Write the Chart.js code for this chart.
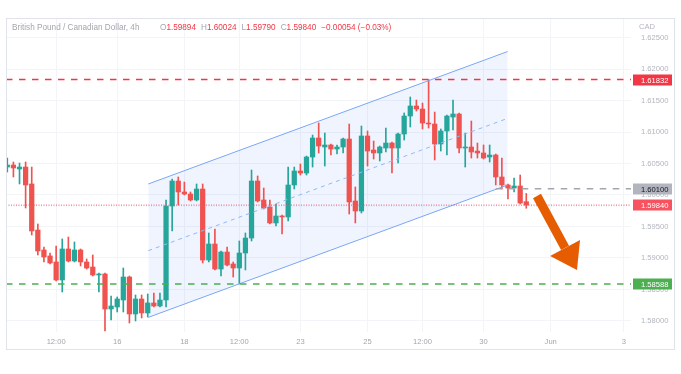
<!DOCTYPE html>
<html>
<head>
<meta charset="utf-8">
<script src="https://cdn.jsdelivr.net/npm/chart.js@4.4.1/dist/chart.umd.min.js"></script>
<style>
  html, body { margin: 0; padding: 0; background: #ffffff; }
  #wrap { position: relative; width: 681px; height: 374px; }
  .ov { position: absolute; white-space: nowrap; font-family: "Liberation Sans", Arial, sans-serif; line-height: 10px; }
  #title { left: 12px; top: 23px; font-size: 8.2px; color: #a3a6af; }
  #ohlc { left: 160px; top: 23px; font-size: 8.2px; color: #f23645; }
  #ohlc .k { color: #a3a6af; }
  #ohlc .v { margin-right: 5px; }
  #cad { left: 639px; top: 22px; font-size: 7.6px; color: #b2b5be; }
</style>
</head>
<body>
<div id="wrap">
  <canvas id="grafiks" width="681" height="374"></canvas>
  <div id="title" class="ov">British Pound / Canadian Dollar, 4h</div>
  <div id="ohlc" class="ov"><span class="k">O</span><span class="v">1.59894</span><span class="k">H</span><span class="v">1.60024</span><span class="k">L</span><span class="v">1.59790</span><span class="k">C</span><span class="v">1.59840</span><span class="v">−0.00054 (−0.03%)</span></div>
  <div id="cad" class="ov">CAD</div>
</div>
<script>
// 4h candles (one entry per candle, left to right)
const opens = [1.60444, 1.60476, 1.60413, 1.60444, 1.60175, 1.59444, 1.59127, 1.59032, 1.58937, 1.58651,
  1.59143, 1.58952, 1.59127, 1.58937, 1.58857, 1.58730, 1.58746, 1.58190, 1.58222, 1.58333,
  1.58698, 1.58111, 1.58349, 1.58127, 1.58286, 1.58238, 1.58333, 1.59825, 1.60222, 1.60048,
  1.60016, 1.59921, 1.60095, 1.58968, 1.59222, 1.58825, 1.59095, 1.58905, 1.58841, 1.59079,
  1.59317, 1.60222, 1.59921, 1.59810, 1.59556, 1.59667, 1.59651, 1.60159, 1.60381, 1.60349,
  1.60603, 1.60905, 1.60762, 1.60794, 1.60730, 1.60762, 1.60889, 1.59905, 1.59746, 1.60937,
  1.60714, 1.60667, 1.60746, 1.60825, 1.60746, 1.60968, 1.61254, 1.61413, 1.61365, 1.61143,
  1.61127, 1.60810, 1.61016, 1.61238, 1.61286, 1.60746, 1.60762, 1.60698, 1.60667, 1.60603,
  1.60635, 1.60286, 1.60159, 1.60111, 1.60143, 1.59894];
const highs = [1.60587, 1.60524, 1.60508, 1.60524, 1.60444, 1.59540, 1.59175, 1.59079, 1.59190, 1.59302,
  1.59333, 1.59254, 1.59143, 1.58984, 1.59048, 1.58762, 1.58762, 1.58397, 1.58381, 1.58841,
  1.58714, 1.58413, 1.58413, 1.58429, 1.58444, 1.58444, 1.59921, 1.60254, 1.60286, 1.60206,
  1.60048, 1.60175, 1.60175, 1.59397, 1.59460, 1.59111, 1.59175, 1.58937, 1.59270, 1.59397,
  1.60397, 1.60302, 1.60111, 1.59921, 1.59857, 1.59683, 1.60444, 1.60444, 1.60492, 1.60619,
  1.60952, 1.61143, 1.60984, 1.60810, 1.60794, 1.60905, 1.61127, 1.60127, 1.61095, 1.61016,
  1.60857, 1.60778, 1.61063, 1.60841, 1.60984, 1.61302, 1.61556, 1.61508, 1.61460, 1.61832,
  1.61317, 1.61048, 1.61270, 1.61508, 1.61302, 1.60984, 1.61175, 1.60825, 1.60794, 1.60794,
  1.60651, 1.60587, 1.60175, 1.60270, 1.60317, 1.60024];
const lows = [1.60365, 1.60286, 1.60175, 1.59794, 1.59365, 1.59048, 1.58937, 1.58905, 1.58635, 1.58460,
  1.58937, 1.58937, 1.58873, 1.58825, 1.58714, 1.58460, 1.57841, 1.58016, 1.58143, 1.58143,
  1.57968, 1.58000, 1.58048, 1.58063, 1.58222, 1.58222, 1.58222, 1.59429, 1.59841, 1.60000,
  1.59905, 1.59905, 1.58921, 1.58937, 1.58810, 1.58714, 1.58873, 1.58698, 1.58587, 1.58810,
  1.59270, 1.59889, 1.59778, 1.59540, 1.59508, 1.59381, 1.59587, 1.60095, 1.60317, 1.60317,
  1.60444, 1.60667, 1.60460, 1.60635, 1.60651, 1.60667, 1.59698, 1.59556, 1.59714, 1.60460,
  1.60571, 1.60540, 1.60683, 1.60349, 1.60508, 1.60873, 1.61080, 1.61333, 1.61048, 1.61063,
  1.60556, 1.60698, 1.60635, 1.61032, 1.60667, 1.60444, 1.60587, 1.60587, 1.60571, 1.60524,
  1.60159, 1.60095, 1.59937, 1.60048, 1.59857, 1.59790];
const closes = [1.60476, 1.60429, 1.60444, 1.60159, 1.59429, 1.59111, 1.59016, 1.58921, 1.58651, 1.59143,
  1.58952, 1.59127, 1.58937, 1.58841, 1.58730, 1.58746, 1.58190, 1.58238, 1.58349, 1.58698,
  1.58111, 1.58349, 1.58127, 1.58286, 1.58238, 1.58333, 1.59825, 1.60222, 1.60048, 1.60016,
  1.59921, 1.60095, 1.58968, 1.59222, 1.58825, 1.59095, 1.58889, 1.58841, 1.59079, 1.59317,
  1.60222, 1.59905, 1.59794, 1.59556, 1.59667, 1.59651, 1.60159, 1.60381, 1.60349, 1.60603,
  1.60905, 1.60778, 1.60794, 1.60730, 1.60762, 1.60889, 1.59889, 1.59746, 1.60937, 1.60698,
  1.60667, 1.60762, 1.60825, 1.60746, 1.60968, 1.61254, 1.61413, 1.61365, 1.61143, 1.61127,
  1.60810, 1.61016, 1.61254, 1.61286, 1.60746, 1.60762, 1.60683, 1.60667, 1.60587, 1.60635,
  1.60286, 1.60159, 1.60111, 1.60143, 1.59873, 1.59840];

// time axis (candle index -> label) and price axis ticks
const timeTickPos = [8, 18, 29, 38, 48, 59, 68, 78, 89, 101];
const timeTickLabels = ["12:00", "16", "18", "12:00", "23", "25", "12:00", "30", "Jun", "3"];
const priceTicks = [1.58, 1.585, 1.59, 1.595, 1.60, 1.605, 1.61, 1.615, 1.62, 1.625];

// drawings: levels, channel, arrow
const resistanceLevel = 1.61832;
const pivotLevel = 1.60100;
const pivotFrom = 80;
const lastPrice = 1.59840;
const prevCloseLevel = 1.59830;
const supportLevel = 1.58588;
const channelX = [23.09, 81.95];
const channelUpper = [1.60175, 1.62278];
const channelMid = [1.59116, 1.61217];
const channelLower = [1.58057, 1.60159];
const arrowFrom = [86.75, 1.59984];
const arrowTo = [93.3, 1.58810];

const xMin = -0.213, xMax = 102.15;
const yMin = 1.57825, yMax = 1.62810;

const upColor = "#26a69a";
const downColor = "#ef5350";
const candleIdx = opens.map((_, i) => i);
const candleColor = (c) => closes[c.dataIndex] >= opens[c.dataIndex] ? upColor : downColor;

function hLine(level, from, to, color, width, dash) {
  return {
    type: "line",
    data: [{ x: from, y: level }, { x: to, y: level }],
    borderColor: color, borderWidth: width, borderDash: dash,
    pointRadius: 0, fill: false, order: 0
  };
}
function twoPoint(xs, ys, color, width, dash) {
  return {
    type: "line",
    data: [{ x: xs[0], y: ys[0] }, { x: xs[1], y: ys[1] }],
    borderColor: color, borderWidth: width, borderDash: dash,
    pointRadius: 0, fill: false, order: 1
  };
}

const tags = [
  { value: resistanceLevel, bg: "#f23645", fg: "#ffffff" },
  { value: pivotLevel, bg: "#b2b5be", fg: "#131722" },
  { value: lastPrice, bg: "#f7525f", fg: "#ffffff" },
  { value: supportLevel, bg: "#4caf50", fg: "#ffffff" }
];

const drawingsPlugin = {
  id: "drawings",
  afterDatasetsDraw(chart) {
    const { ctx, chartArea: a, scales: { x, y } } = chart;
    ctx.save();
    ctx.beginPath();
    ctx.rect(a.left, a.top, a.right - a.left, a.bottom - a.top);
    ctx.clip();
    const x0 = x.getPixelForValue(arrowFrom[0]), y0 = y.getPixelForValue(arrowFrom[1]);
    const x1 = x.getPixelForValue(arrowTo[0]), y1 = y.getPixelForValue(arrowTo[1]);
    const ang = Math.atan2(y1 - y0, x1 - x0);
    const headLen = 25, headHalf = 17;
    const bx = x1 - headLen * Math.cos(ang), by = y1 - headLen * Math.sin(ang);
    ctx.strokeStyle = "#e65c00";
    ctx.fillStyle = "#e65c00";
    ctx.lineWidth = 9;
    ctx.beginPath();
    ctx.moveTo(x0, y0);
    ctx.lineTo(bx, by);
    ctx.stroke();
    ctx.beginPath();
    ctx.moveTo(x1, y1);
    ctx.lineTo(bx + headHalf * Math.sin(ang), by - headHalf * Math.cos(ang));
    ctx.lineTo(bx - headHalf * Math.sin(ang), by + headHalf * Math.cos(ang));
    ctx.closePath();
    ctx.fill();
    ctx.restore();
  },
  afterDraw(chart) {
    const { ctx, chartArea: a, scales: { y } } = chart;
    ctx.save();
    ctx.font = '7.6px "Liberation Sans", Arial, sans-serif';
    ctx.textBaseline = "middle";
    ctx.textAlign = "left";
    tags.forEach((t) => {
      const py = Math.round(y.getPixelForValue(t.value));
      ctx.fillStyle = t.bg;
      ctx.fillRect(a.right + 2, py - 5.5, 39, 11);
      ctx.fillStyle = t.fg;
      ctx.fillText(t.value.toFixed(5), a.right + 10, py + 0.5);
    });
    // outer frame
    ctx.strokeStyle = "#e0e3eb";
    ctx.lineWidth = 1;
    ctx.strokeRect(6.5, 18.5, 668, 331);
    ctx.restore();
  }
};

new Chart(document.getElementById("grafiks"), {
  type: "bar",
  data: {
    datasets: [
      // channel: upper line carries the fill down to the lower line
      Object.assign(twoPoint(channelX, channelUpper, "#7aa7f5", 1, []),
        { fill: { target: 1 }, backgroundColor: "rgba(41, 98, 255, 0.07)" }),
      twoPoint(channelX, channelLower, "#7aa7f5", 1, []),
      twoPoint(channelX, channelMid, "#8dbaf7", 1, [4, 4]),
      hLine(resistanceLevel, xMin, xMax, "#f23645", 1.5, [6.5, 6.5]),
      hLine(pivotLevel, pivotFrom, xMax, "#a3a6af", 1.5, [6.5, 6.5]),
      hLine(prevCloseLevel, xMin, xMax, "rgba(120, 160, 240, 0.45)", 1, [1, 1.5]),
      hLine(lastPrice, xMin, xMax, "rgba(242, 54, 69, 0.75)", 1, [1, 1.5]),
      hLine(supportLevel, xMin, xMax, "#4caf50", 1.5, [6.5, 6.5]),
      {
        label: "body",
        data: candleIdx.map((i) => ({ x: i, y: [opens[i], closes[i]] })),
        backgroundColor: candleColor,
        barThickness: 4.6,
        minBarLength: 1,
        grouped: false,
        order: 2
      },
      {
        label: "wick",
        data: candleIdx.map((i) => ({ x: i, y: [lows[i], highs[i]] })),
        backgroundColor: candleColor,
        barThickness: 1,
        grouped: false,
        order: 3
      }
    ]
  },
  options: {
    responsive: false,
    animation: false,
    layout: { padding: { left: 6, right: 0, top: 18, bottom: 24 } },
    plugins: {
      legend: { display: false },
      tooltip: { enabled: false },
      filler: { drawTime: "beforeDatasetsDraw" }
    },
    scales: {
      x: {
        type: "linear",
        min: xMin,
        max: xMax,
        offset: false,
        border: { display: false },
        grid: { color: "#f3f4f7", drawTicks: false, offset: false },
        afterBuildTicks: (s) => { s.ticks = timeTickPos.map((v) => ({ value: v })); },
        afterFit: (s) => { s.height = 18; },
        ticks: {
          autoSkip: false,
          maxRotation: 0,
          padding: 5,
          color: "#a3a6af",
          font: { family: '"Liberation Sans", Arial, sans-serif', size: 7.6 },
          callback: (v, i) => timeTickLabels[i]
        }
      },
      y: {
        position: "right",
        min: yMin,
        max: yMax,
        border: { display: false },
        grid: { color: "#f3f4f7", drawTicks: false },
        afterBuildTicks: (s) => { s.ticks = priceTicks.map((v) => ({ value: v })); },
        afterFit: (s) => { s.width = 50; },
        ticks: {
          padding: 10,
          color: "#b2b5be",
          font: { family: '"Liberation Sans", Arial, sans-serif', size: 7.6 },
          callback: (v) => v.toFixed(5)
        }
      }
    }
  },
  plugins: [drawingsPlugin]
});
</script>
</body>
</html>
